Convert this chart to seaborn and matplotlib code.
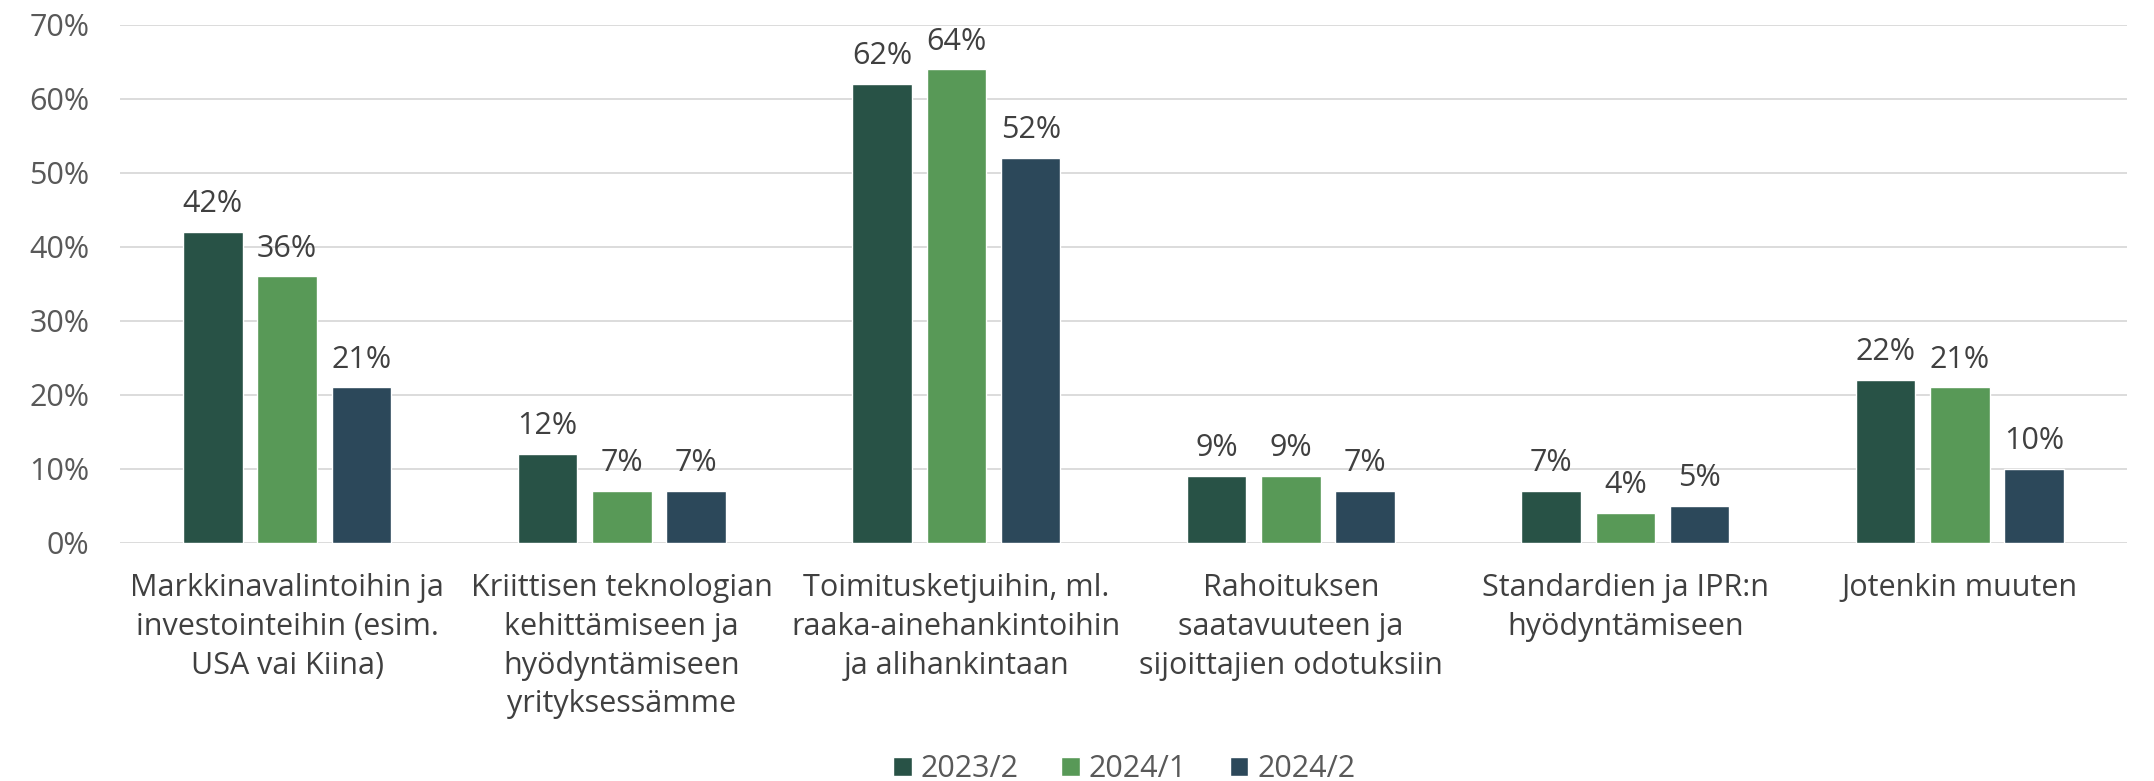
import matplotlib
matplotlib.use("Agg")
import matplotlib.pyplot as plt
import pandas as pd
import seaborn as sns
from matplotlib.ticker import FuncFormatter

categories = [
    "Markkinavalintoihin ja\ninvestointeihin (esim.\nUSA vai Kiina)",
    "Kriittisen teknologian\nkehittämiseen ja\nhyödyntämiseen\nyrityksessämme",
    "Toimitusketjuihin, ml.\nraaka-ainehankintoihin\nja alihankintaan",
    "Rahoituksen\nsaatavuuteen ja\nsijoittajien odotuksiin",
    "Standardien ja IPR:n\nhyödyntämiseen",
    "Jotenkin muuten",
]
periods = ["2023/2", "2024/1", "2024/2"]
values_2023_2 = [42, 12, 62, 9, 7, 22]
values_2024_1 = [36, 7, 64, 9, 4, 21]
values_2024_2 = [21, 7, 52, 7, 5, 10]
colors = ["#285246", "#589957", "#2C485A"]

df = pd.DataFrame({
    "category": categories * 3,
    "period": [periods[0]] * 6 + [periods[1]] * 6 + [periods[2]] * 6,
    "value": values_2023_2 + values_2024_1 + values_2024_2,
})

sns.set_style("white")
plt.rcParams["font.family"] = ["Open Sans", "DejaVu Sans"]

fig = plt.figure(figsize=(21.54, 7.81), dpi=100)
ax = fig.add_axes((0.0557, 0.3053, 0.9318, 0.6631))

sns.barplot(
    data=df, x="category", y="value", hue="period",
    palette=colors, width=0.667, gap=0.2, ax=ax, saturation=1,
)

for cont in ax.containers:
    ax.bar_label(cont, labels=[f"{v:.0f}%" for v in cont.datavalues],
                 padding=9, fontsize=22, color="#404040")

ax.set_ylim(0, 70)
ax.set_yticks(range(0, 71, 10))
ax.yaxis.set_major_formatter(FuncFormatter(lambda v, p: f"{v:.0f}%"))
ax.grid(axis="y", color="#d9d9d9", linewidth=1.3)
ax.set_axisbelow(True)
for s in ax.spines.values():
    s.set_visible(False)
ax.set_xlabel("")
ax.set_ylabel("")
ax.tick_params(axis="y", labelsize=22, labelcolor="#595959", length=0, pad=22)
ax.tick_params(axis="x", labelsize=22, labelcolor="#404040", length=0, pad=22)
for lbl in ax.get_xticklabels():
    lbl.set_linespacing(1.38)

h, l = ax.get_legend_handles_labels()
ax.legend_.remove()
fig.legend(h, l, ncol=3, loc="center", bbox_to_anchor=(0.522, 0.015),
           frameon=False, fontsize=22, labelcolor="#595959",
           handlelength=0.6, handleheight=0.6, handletextpad=0.3, columnspacing=1.4)

fig.savefig("out.png", dpi=100)
